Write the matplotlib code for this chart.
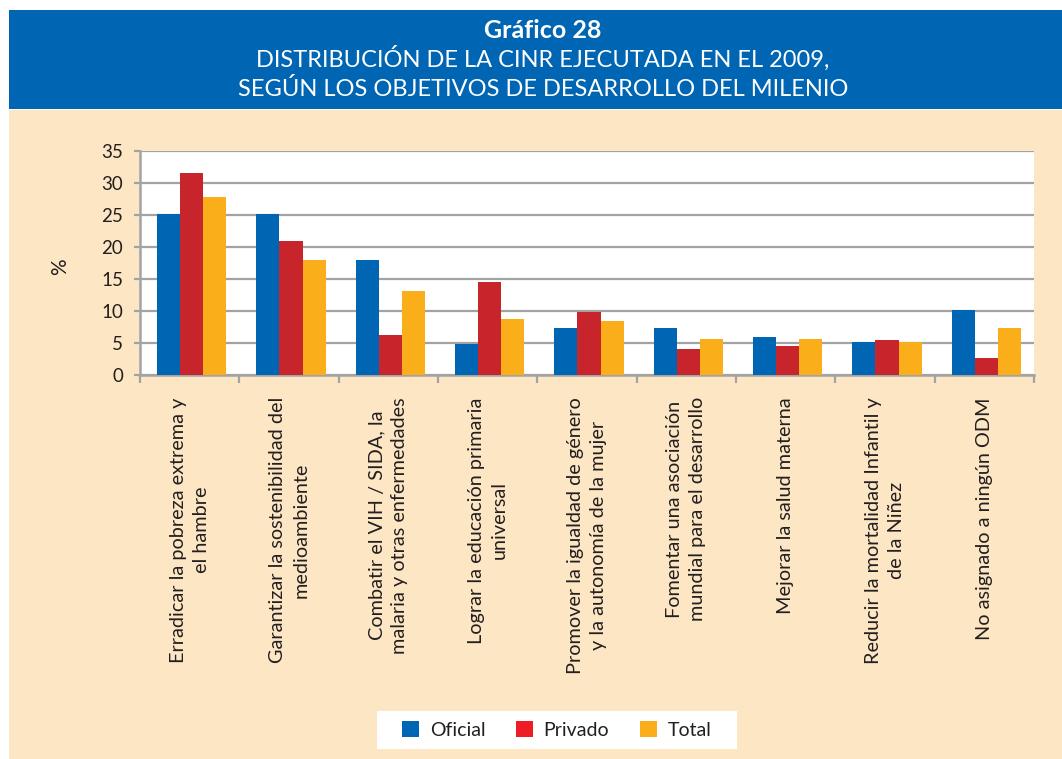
import matplotlib
matplotlib.use("Agg")
import matplotlib.pyplot as plt
from matplotlib.patches import Rectangle, Patch
import numpy as np

categories = [
    "Erradicar la pobreza extrema y\nel hambre",
    "Garantizar la sostenibilidad del\nmedioambiente",
    "Combatir el VIH / SIDA, la\nmalaria y otras enfermedades",
    "Lograr la educación primaria\nuniversal",
    "Promover la igualdad de género\ny la autonomía de la mujer",
    "Fomentar una asociación\nmundial para el desarrollo",
    "Mejorar la salud materna",
    "Reducir la mortalidad Infantil y\nde la Niñez",
    "No asignado a ningún ODM",
]
oficial = [25.1, 25.1, 17.9, 4.9, 7.4, 7.4, 6.0, 5.1, 10.2]
privado = [31.6, 20.9, 6.3, 14.6, 9.8, 4.0, 4.6, 5.4, 2.7]
total = [27.8, 17.9, 13.1, 8.7, 8.4, 5.7, 5.7, 5.1, 7.3]
series_names = ["Oficial", "Privado", "Total"]
yticks = [0, 5, 10, 15, 20, 25, 30, 35]

title_num = "Gráfico 28"
title_lines = "DISTRIBUCIÓN DE LA CINR EJECUTADA EN EL 2009,\nSEGÚN LOS OBJETIVOS DE DESARROLLO DEL MILENIO"

BLUE = "#0066B3"
RED = "#C8242B"
YELLOW = "#F9AE1A"
BEIGE = "#FDE6C4"
GRID = "#A3A3A3"
TXT = "#231F20"
FONT = "Lato"

W, H = 1062, 759
fig = plt.figure(figsize=(W / 100, H / 100), dpi=100)
fig.patch.set_facecolor("white")

def fx(px):
    return px / W

def fy(py):
    return 1 - py / H

# header and panel
fig.patches.append(Rectangle((fx(9), fy(109)), fx(W - 9), 99 / H, transform=fig.transFigure,
                             facecolor=BLUE, edgecolor="none", zorder=-10))
fig.patches.append(Rectangle((fx(9), 0), fx(W - 9), fy(110), transform=fig.transFigure,
                             facecolor=BEIGE, edgecolor="none", zorder=-10))
# legend box
fig.patches.append(Rectangle((fx(377), fy(749)), fx(360), 38 / H, transform=fig.transFigure,
                             facecolor="white", edgecolor="none", zorder=-5))

fig.text(fx(543), fy(30), title_num, ha="center", va="center", color="white",
         fontsize=18, fontweight="bold", family=FONT)
fig.text(fx(543), fy(73), title_lines, ha="center", va="center", color="white",
         fontsize=17, family=FONT, linespacing=1.4)

ax = fig.add_axes([fx(140), fy(375), fx(894), 224 / H])
ax.set_zorder(2)
ax.set_facecolor("white")

x = np.arange(len(categories))
bw = 0.232
ax.bar(x - bw + 0.02, oficial, bw, color=BLUE, zorder=3, label=series_names[0])
ax.bar(x + 0.02, privado, bw, color=RED, zorder=3, label=series_names[1])
ax.bar(x + bw + 0.02, total, bw, color=YELLOW, zorder=3, label=series_names[2])

ax.set_xlim(-0.5, len(categories) - 0.5)
ax.set_ylim(0, 35)
ax.set_yticks(yticks)
ax.set_yticklabels([str(v) for v in yticks], family=FONT, fontsize=13.5, color=TXT)
ax.yaxis.grid(True, color=GRID, linewidth=1.6, zorder=0)
ax.set_axisbelow(True)

ax.set_xticks(x)
ax.set_xticklabels(categories, rotation=90, ha="center", va="top", family=FONT,
                   fontsize=14.3, color=TXT, multialignment="center", linespacing=1.45)
ax.set_xticks(np.arange(len(categories) + 1) - 0.5, minor=True)
ax.tick_params(axis="x", which="major", length=0, pad=16)
ax.tick_params(axis="x", which="minor", length=6, width=1.6, color=GRID, direction="out")
ax.tick_params(axis="y", length=4, width=1.6, color=GRID, pad=8)

for s in ["top", "right"]:
    ax.spines[s].set_visible(False)
for s in ["left", "bottom"]:
    ax.spines[s].set_color(GRID)
    ax.spines[s].set_linewidth(1.8)

fig.text(fx(60), fy(267), "%", rotation=90, ha="center", va="center",
         fontsize=15, family=FONT, color=TXT)

handles = [Patch(facecolor=BLUE, edgecolor="none"),
           Patch(facecolor="#EE1C25", edgecolor="none"),
           Patch(facecolor=YELLOW, edgecolor="none")]
leg = fig.legend(handles, series_names, loc="center", bbox_to_anchor=(fx(557), fy(730)),
                 ncol=3, frameon=False, handlelength=0.85, handleheight=0.85,
                 handletextpad=0.55, columnspacing=1.6, borderpad=0.3,
                 prop={"family": FONT, "size": 14})
for t in leg.get_texts():
    t.set_color(TXT)

fig.savefig("out.png", dpi=100, facecolor=fig.get_facecolor())
